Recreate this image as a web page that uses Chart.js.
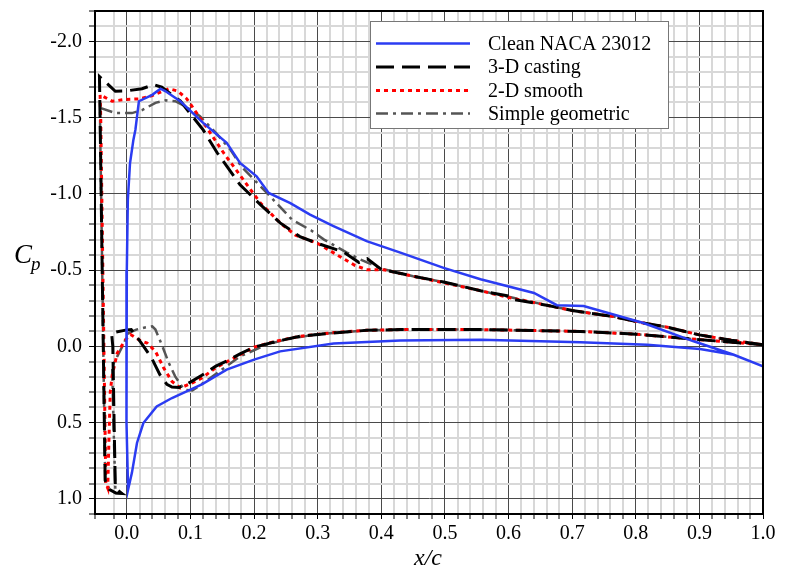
<!DOCTYPE html>
<html><head><meta charset="utf-8">
<script src="https://cdn.jsdelivr.net/npm/chart.js@4"></script>
<style>html,body{margin:0;padding:0;background:#fff}canvas{display:block}</style>
</head><body>
<canvas id="c" width="786" height="570"></canvas>
<script>
// ---- Data (x/c, Cp) : each surface listed from stagnation point to trailing edge ----
const seriesNames = ['Clean NACA 23012', '3-D casting', '2-D smooth', 'Simple geometric'];

const cleanUpperX  = [0.002, 0.0, -0.001, 0.0, 0.0016, 0.005, 0.0104, 0.0135, 0.019, 0.04, 0.053, 0.061, 0.084, 0.12, 0.157, 0.178, 0.204, 0.223, 0.257, 0.288, 0.324, 0.377, 0.43, 0.498, 0.556, 0.64, 0.676, 0.718, 0.812, 0.891, 0.954, 1.0];
const cleanUpperCp = [0.94, 0.5, 0.0, -0.5, -0.96, -1.2, -1.356, -1.42, -1.608, -1.65, -1.69, -1.673, -1.608, -1.466, -1.335, -1.203, -1.115, -1.006, -0.94, -0.864, -0.79, -0.69, -0.615, -0.515, -0.44, -0.35, -0.27, -0.265, -0.153, -0.033, 0.055, 0.131];
const cleanLowerX  = [0.002, 0.008, 0.016, 0.026, 0.047, 0.071, 0.1, 0.118, 0.157, 0.2, 0.241, 0.325, 0.43, 0.556, 0.713, 0.818, 0.901, 0.954, 1.0];
const cleanLowerCp = [0.94, 0.83, 0.634, 0.503, 0.394, 0.339, 0.284, 0.25, 0.153, 0.087, 0.033, -0.018, -0.039, -0.044, -0.026, -0.011, 0.017, 0.055, 0.131];

const castUpperX  = [-0.008, -0.017, -0.027, -0.034, -0.036, -0.038, -0.040, -0.042, -0.043, -0.030, -0.018, -0.002, 0.024, 0.042, 0.055, 0.084, 0.12, 0.142, 0.178, 0.21, 0.241, 0.272, 0.3, 0.34, 0.365, 0.378, 0.4, 0.45, 0.5, 0.556, 0.6, 0.605, 0.66, 0.7, 0.765, 0.81, 0.85, 0.9, 0.95, 1.0];
const castUpperCp = [0.965, 0.962, 0.94, 0.88, 0.3, -0.3, -0.9, -1.5, -1.77, -1.72, -1.673, -1.675, -1.69, -1.717, -1.70, -1.61, -1.42, -1.27, -1.06, -0.93, -0.81, -0.72, -0.675, -0.62, -0.55, -0.575, -0.505, -0.46, -0.42, -0.365, -0.33, -0.31, -0.27, -0.235, -0.195, -0.155, -0.125, -0.075, -0.04, -0.01];
const castLowerX  = [-0.008, -0.018, -0.020, -0.022, -0.024, 0.0, 0.007, 0.024, 0.039, 0.052, 0.063, 0.071, 0.082, 0.1, 0.118, 0.14, 0.16, 0.178, 0.2, 0.236, 0.272, 0.325, 0.377, 0.43, 0.556, 0.713, 0.8, 0.9, 1.0];
const castLowerCp = [0.965, 0.93, 0.5, 0.0, -0.088, -0.108, -0.11, -0.015, 0.077, 0.186, 0.25, 0.267, 0.27, 0.235, 0.19, 0.13, 0.09, 0.05, 0.005, -0.033, -0.066, -0.088, -0.105, -0.11, -0.11, -0.098, -0.08, -0.044, -0.011];

const smoothUpperX  = [-0.03, -0.033, -0.035, -0.037, -0.039, -0.041, -0.042, -0.023, -0.002, 0.019, 0.04, 0.066, 0.08, 0.094, 0.12, 0.152, 0.183, 0.21, 0.241, 0.265, 0.3, 0.359, 0.377, 0.403, 0.45, 0.5, 0.556, 0.6, 0.66, 0.7, 0.765, 0.81, 0.85, 0.9, 0.95, 1.0];
const smoothUpperCp = [0.93, 0.9, 0.3, -0.3, -0.9, -1.5, -1.65, -1.608, -1.62, -1.623, -1.645, -1.69, -1.675, -1.625, -1.47, -1.27, -1.094, -0.94, -0.81, -0.73, -0.675, -0.53, -0.503, -0.503, -0.46, -0.415, -0.365, -0.32, -0.27, -0.235, -0.195, -0.155, -0.125, -0.075, -0.04, -0.01];
const smoothLowerX  = [-0.03, -0.028, -0.026, -0.023, -0.015, -0.002, 0.006, 0.016, 0.024, 0.032, 0.045, 0.058, 0.071, 0.084, 0.103, 0.118, 0.14, 0.16, 0.178, 0.2, 0.236, 0.272, 0.325, 0.377, 0.43, 0.556, 0.713, 0.8, 0.9, 1.0];
const smoothLowerCp = [0.93, 0.6, 0.3, 0.19, 0.044, -0.044, -0.077, -0.05, -0.033, -0.022, 0.033, 0.142, 0.23, 0.273, 0.24, 0.208, 0.14, 0.095, 0.055, 0.005, -0.035, -0.066, -0.09, -0.105, -0.11, -0.11, -0.098, -0.08, -0.044, -0.011];

const simpleUpperX  = [-0.008, -0.018, -0.027, -0.034, -0.036, -0.038, -0.040, -0.042, -0.042, -0.018, 0.008, 0.024, 0.045, 0.061, 0.076, 0.092, 0.115, 0.14, 0.163, 0.18, 0.217, 0.26, 0.29, 0.31, 0.346, 0.367, 0.4, 0.45, 0.5, 0.556, 0.6, 0.66, 0.7, 0.765, 0.81, 0.85, 0.9, 0.95, 1.0];
const simpleUpperCp = [0.965, 0.962, 0.94, 0.88, 0.3, -0.3, -0.9, -1.45, -1.565, -1.53, -1.53, -1.55, -1.597, -1.614, -1.608, -1.575, -1.51, -1.40, -1.29, -1.18, -1.02, -0.83, -0.76, -0.70, -0.615, -0.57, -0.51, -0.46, -0.42, -0.365, -0.325, -0.27, -0.235, -0.195, -0.155, -0.125, -0.075, -0.04, -0.01];
const simpleLowerX  = [-0.008, -0.018, -0.021, -0.023, -0.015, -0.007, 0.003, 0.015, 0.03, 0.04, 0.045, 0.056, 0.066, 0.076, 0.09, 0.103, 0.113, 0.142, 0.178, 0.22, 0.25, 0.3, 0.377, 0.43, 0.556, 0.713, 0.8, 0.9, 1.0];
const simpleLowerCp = [0.965, 0.94, 0.5, 0.13, 0.066, 0.0, -0.088, -0.11, -0.125, -0.131, -0.11, 0.0, 0.109, 0.197, 0.284, 0.29, 0.262, 0.175, 0.066, -0.011, -0.045, -0.08, -0.105, -0.11, -0.11, -0.098, -0.08, -0.044, -0.011];

// axis ranges / ticks
const xRange = [-0.05, 1.0], xMinorStep = 0.02, xMajorStep = 0.1;
const yRange = [-2.2, 1.1], yMinorStep = 0.1, yMajorStep = 0.5;

// build a closed surface path: upper (TE -> stagnation) then lower (stagnation -> TE)
function surfacePath(ux, uc, lx, lc) {
  const pts = [];
  for (let i = ux.length - 1; i >= 0; i--) pts.push({x: ux[i], y: uc[i]});
  for (let i = 1; i < lx.length; i++) pts.push({x: lx[i], y: lc[i]});
  return pts;
}

const FONT = "'Liberation Serif', 'Times New Roman', serif";
const styles = [
  {color: '#2b3cf2', width: 2.5, dash: []},
  {color: '#000000', width: 3, dash: [18, 8]},
  {color: '#ff0000', width: 3, dash: [4, 4]},
  {color: '#555555', width: 2.5, dash: [12, 5, 3, 5]}
];
const paths = [
  surfacePath(cleanUpperX, cleanUpperCp, cleanLowerX, cleanLowerCp),
  surfacePath(castUpperX, castUpperCp, castLowerX, castLowerCp),
  surfacePath(smoothUpperX, smoothUpperCp, smoothLowerX, smoothLowerCp),
  surfacePath(simpleUpperX, simpleUpperCp, simpleLowerX, simpleLowerCp)
];

function isMult(v, step) { const r = v / step; return Math.abs(r - Math.round(r)) < 1e-6; }

const bgPlugin = {
  id: 'bg',
  beforeDraw(chart) { const c = chart.ctx; c.save(); c.fillStyle = '#fff'; c.fillRect(0, 0, chart.width, chart.height); c.restore(); }
};
const framePlugin = {
  id: 'frame',
  afterDraw(chart) {
    const c = chart.ctx, a = chart.chartArea;
    c.save();
    c.strokeStyle = '#000'; c.lineWidth = 2;
    c.strokeRect(a.left, a.top, a.right - a.left, a.bottom - a.top);
    // legend
    const lx = 370, ly = 21, lw = 298, lh = 107;
    c.fillStyle = '#fff'; c.fillRect(lx, ly, lw, lh);
    c.strokeStyle = '#777'; c.lineWidth = 1; c.strokeRect(lx + 0.5, ly + 0.5, lw, lh);
    const rows = [43.5, 67, 90.5, 113.5];
    chart.data.datasets.forEach((ds, i) => {
      c.beginPath();
      c.setLineDash(ds.borderDash || []);
      c.strokeStyle = ds.borderColor; c.lineWidth = ds.borderWidth;
      c.moveTo(376, rows[i]); c.lineTo(470, rows[i]); c.stroke();
      c.setLineDash([]);
      c.fillStyle = '#000'; c.font = '20px ' + FONT; c.textBaseline = 'middle'; c.textAlign = 'left';
      c.fillText(ds.label, 488, rows[i] + 1);
    });
    // axis titles
    c.fillStyle = '#000'; c.textBaseline = 'alphabetic';
    c.font = 'italic 27px ' + FONT; c.textAlign = 'left';
    c.fillText('C', 14, 263);
    c.font = 'italic 19px ' + FONT;
    c.fillText('p', 31, 270);
    c.font = 'italic 24px ' + FONT; c.textAlign = 'center';
    c.fillText('x/c', 428, 565);
    c.restore();
  }
};

new Chart(document.getElementById('c'), {
  type: 'scatter',
  data: {
    datasets: paths.map((p, i) => ({
      label: seriesNames[i],
      data: p,
      showLine: true,
      borderColor: styles[i].color,
      backgroundColor: styles[i].color,
      borderWidth: styles[i].width,
      borderDash: styles[i].dash,
      pointRadius: 0,
      tension: 0,
      fill: false
    }))
  },
  options: {
    responsive: false,
    animation: false,
    devicePixelRatio: 1,
    layout: {padding: {left: 0, top: 11, right: 23, bottom: 0}},
    plugins: {legend: {display: false}, tooltip: {enabled: false}},
    scales: {
      x: {
        type: 'linear', min: xRange[0], max: xRange[1],
        afterFit(s) { s.height = 56; s.paddingLeft = 0; s.paddingRight = 0; },
        ticks: {
          stepSize: xMinorStep, autoSkip: false, maxRotation: 0, minRotation: 0,
          color: '#000', font: {family: FONT, size: 20}, padding: 3,
          callback: v => isMult(v, xMajorStep) ? (Math.abs(v) < 1e-9 ? 0 : v).toFixed(1) : ''
        },
        grid: {
          color: ctx => isMult(ctx.tick.value, xMajorStep) ? '#4a4a4a' : '#d8d8d8',
          lineWidth: ctx => isMult(ctx.tick.value, xMajorStep) ? 1 : 2,
          tickColor: '#000', tickLength: 5, tickWidth: 1
        },
        border: {display: true, color: '#000', width: 2}
      },
      y: {
        type: 'linear', min: yRange[0], max: yRange[1], reverse: true,
        afterFit(s) { s.width = 95; s.paddingTop = 0; s.paddingBottom = 0; },
        ticks: {
          stepSize: yMinorStep, autoSkip: false,
          color: '#000', font: {family: FONT, size: 20}, padding: 7,
          callback: v => isMult(v, yMajorStep) ? (Math.abs(v) < 1e-9 ? 0 : v).toFixed(1) : ''
        },
        grid: {
          color: ctx => isMult(ctx.tick.value, yMajorStep) ? '#4a4a4a' : '#d8d8d8',
          lineWidth: ctx => isMult(ctx.tick.value, yMajorStep) ? 1 : 2,
          tickColor: '#000', tickLength: 6, tickWidth: 1
        },
        border: {display: true, color: '#000', width: 2}
      }
    }
  },
  plugins: [bgPlugin, framePlugin]
});
</script>
</body></html>
